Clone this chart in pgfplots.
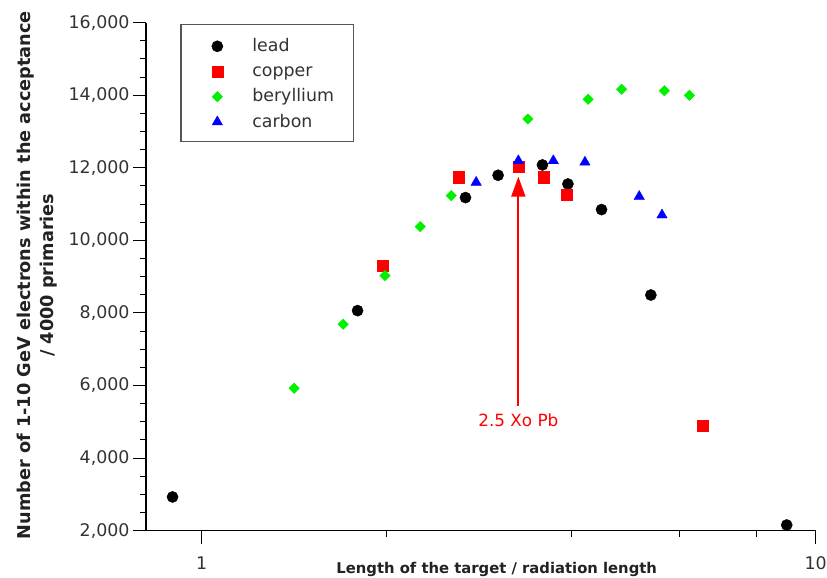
\documentclass[border=0pt]{standalone}
\usepackage{fontspec}
\setmainfont{DejaVu Sans}
\usepackage{pgfplots}
\pgfplotsset{compat=1.18}
\usetikzlibrary{arrows.meta}
\definecolor{tickgray}{HTML}{333333}
\definecolor{labgray}{HTML}{222222}
\definecolor{leggray}{HTML}{555555}
\definecolor{mygreen}{HTML}{00F000}
\definecolor{myred}{HTML}{FF0000}
\definecolor{myblue}{HTML}{0000FF}
\begin{document}
\begin{tikzpicture}
\useasboundingbox (0,0) rectangle (827pt,578pt);
\begin{axis}[
  at={(146pt,47.3pt)}, anchor=south west,
  scale only axis, width=669.7pt, height=508pt,
  xmode=log, xmin=0.812, xmax=10, ymin=2000, ymax=16000,
  axis lines=left, axis line style={-, black, line width=1.2pt},
  clip=false,
  xtick={1,10}, xticklabels={1,10}, minor xtick={2,4,6,8},
  ytick={2000,4000,...,16000}, minor y tick num=3,
  scaled y ticks=false,
  yticklabel={\pgfmathprintnumber[fixed,1000 sep={,},assume math mode=true]{\tick}},
  tick align=outside, major tick length=13pt, minor tick length=6pt,
  tick style={black, line width=1pt},
  tick label style={font=\fontsize{17.4}{20}\selectfont, text=tickgray},
  xticklabel style={anchor=base, yshift=-25.6pt},
  ylabel={Number of 1-10 GeV electrons within the acceptance\\/ 4000 primaries},
  ylabel style={at={(axis description cs:-0.163,0.503)}, anchor=center, align=center,
    font=\bfseries\fontsize{17.7}{23}\selectfont, text=labgray},
  xlabel={Length of the target / radiation length},
  xlabel style={at={(axis description cs:0.5237,-0.0835)}, anchor=base,
    font=\bfseries\fontsize{14.8}{17}\selectfont, text=labgray},
  legend style={at={(axis description cs:0.0512,0.9974)}, anchor=north west,
    draw=leggray, line width=1.3pt, fill=white, inner xsep=19.4pt, inner ysep=10.5pt,
    font=\fontsize{17.4}{20}\selectfont, text=tickgray,
    row sep=4.9pt, column sep=18pt,
    nodes={inner sep=0pt, text height=16.3pt, text depth=4pt}},
  legend cell align=left,
  legend image code/.code={\path[draw=none,fill=none] (0pt,0pt) -- (34pt,0pt); \draw[#1, line width=0.4pt] plot[only marks] coordinates {(17pt,-1pt)};},
]
\addplot[only marks, mark=*, mark size=5.6pt, black] coordinates {
(0.897,2930) (1.795,8065) (2.69,11180) (3.04,11795) (3.59,12080) (3.95,11555) (4.48,10850) (5.39,8495) (8.97,2157)};
\addlegendentry{lead}
\addplot[only marks, mark=square*, mark size=5.6pt, myred] coordinates {
(1.97,9300) (2.62,11740) (3.28,12025) (3.61,11740) (3.93,11260) (6.54,4885)};
\addlegendentry{copper}
\addplot[only marks, mark=square*, mark options={rotate=45}, mark size=3.7pt, mygreen] coordinates {
(1.415,5925) (1.70,7690) (1.99,9030) (2.27,10380) (2.55,11235) (3.40,13345) (4.26,13890) (4.83,14165) (5.67,14125) (6.23,14000)};
\addlegendentry{beryllium}
\addplot[only marks, mark=triangle*, mark size=6pt, myblue] coordinates {
(2.80,11600) (3.28,12195) (3.74,12195) (4.21,12155) (5.16,11210) (5.62,10700)};
\addlegendentry{carbon}
\draw[myred, line width=2pt, -{Triangle[width=14pt,length=20pt]}] (axis cs:3.28,5437) -- (axis cs:3.28,11756);
\node[text=myred, font=\fontsize{16.8}{19}\selectfont] at (axis cs:3.28,5037) {2.5 Xo Pb};
\end{axis}
\end{tikzpicture}
\end{document}
